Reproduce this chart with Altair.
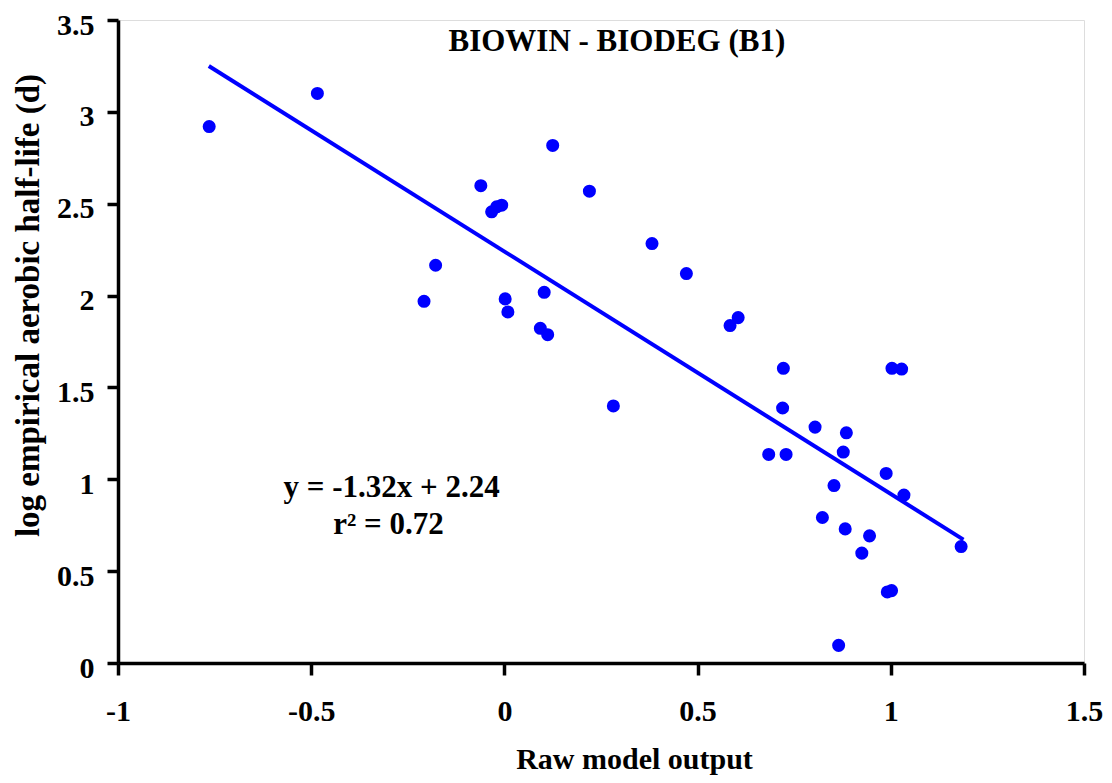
import altair as alt
import pandas as pd

# Scatter data
raw_output = [-0.764, -0.484, -0.208, -0.178, -0.061, -0.033, -0.020, -0.007, 0.002, 0.009,
              0.093, 0.103, 0.112, 0.125, 0.220, 0.282, 0.382, 0.471, 0.584, 0.605,
              0.684, 0.722, 0.720, 0.729, 0.804, 0.823, 0.853, 0.877, 0.885, 0.882,
              0.865, 0.925, 0.945, 0.988, 0.991, 1.002, 1.003, 1.028, 1.034, 1.182]
log_half_life = [2.92, 3.10, 1.969, 2.165, 2.598, 2.456, 2.483, 2.492, 1.982, 1.911,
                 1.822, 2.018, 1.787, 2.817, 2.568, 1.399, 2.283, 2.12, 1.837, 1.88,
                 1.135, 1.604, 1.388, 1.135, 1.284, 0.792, 0.966, 1.148, 1.253, 0.730,
                 0.096, 0.598, 0.692, 1.032, 0.387, 0.394, 1.604, 1.60, 0.914, 0.634]

# Regression line (from the stated equation)
slope = -1.32
intercept = 2.24
line_x = [-0.765, 1.188]

# Annotations
title_text = ["BIOWIN - BIODEG (B1)"]
title_pos = [(0.291, 3.33)]
eq_text = ["y = -1.32x + 2.24", "r² = 0.72"]
eq_pos = [(-0.292, 0.905), (-0.30, 0.70)]

x_ticks = [-1, -0.5, 0, 0.5, 1, 1.5]
y_ticks = [0, 0.5, 1, 1.5, 2, 2.5, 3, 3.5]

FONT = "Liberation Serif"

pts = pd.DataFrame({"x": raw_output, "y": log_half_life})
line_df = pd.DataFrame({"x": line_x, "y": [slope * v + intercept for v in line_x]})
ann_df = pd.DataFrame({
    "text": title_text + eq_text,
    "x": [p[0] for p in title_pos + eq_pos],
    "y": [p[1] for p in title_pos + eq_pos],
    "size": [31, 31, 31],
})

xscale = alt.Scale(domain=[-1, 1.5], nice=False, zero=False)
yscale = alt.Scale(domain=[0, 3.5], nice=False, zero=False)

xaxis = alt.Axis(
    values=x_ticks, title="Raw model output", grid=False,
    labelFont=FONT, labelFontSize=30, labelFontWeight="bold", labelColor="black",
    labelPadding=21, labelFlush=False, labelExpr="datum.value",
    tickSize=12, tickWidth=3.5, tickColor="black",
    domainColor="black", domainWidth=3.5,
    titleFont=FONT, titleFontSize=30, titleFontWeight="bold", titleColor="black",
    titleX=516, titleY=105, titleBaseline="alphabetic", titleAnchor="middle", titleAlign="center",
)
yaxis = alt.Axis(
    values=y_ticks, title="log empirical aerobic half-life (d)", grid=False,
    labelFont=FONT, labelFontSize=30, labelFontWeight="bold", labelColor="black",
    labelPadding=13, labelFlush=False, labelOffset=5, labelExpr="datum.value",
    tickSize=11, tickWidth=3.5, tickColor="black",
    domainColor="black", domainWidth=3.5,
    titleFont=FONT, titleFontSize=33, titleFontWeight="bold", titleColor="black",
    titleX=-90, titleY=285, titleBaseline="middle", titleAngle=-90, titleAlign="center",
)

points = alt.Chart(pts).mark_circle(color="#0000FF", size=170, opacity=1).encode(
    x=alt.X("x:Q", scale=xscale, axis=xaxis),
    y=alt.Y("y:Q", scale=yscale, axis=yaxis),
)

reg = alt.Chart(line_df).mark_line(color="#0000FF", strokeWidth=4).encode(
    x=alt.X("x:Q", scale=xscale),
    y=alt.Y("y:Q", scale=yscale),
)

ann = alt.Chart(ann_df).mark_text(
    font=FONT, fontWeight="bold", color="black", align="center", baseline="alphabetic"
).encode(
    x=alt.X("x:Q", scale=xscale),
    y=alt.Y("y:Q", scale=yscale),
    text="text:N",
    size=alt.Size("size:Q", scale=None, legend=None),
)

chart = alt.layer(reg, points, ann).properties(
    width=966, height=643,
    autosize=alt.AutoSizeParams(type="none"),
    padding={"left": 110, "top": 12, "right": 20, "bottom": 112},
).configure_view(stroke=None).configure(background="white")

chart.save("out.html", embed_options={"renderer": "svg", "actions": False})
